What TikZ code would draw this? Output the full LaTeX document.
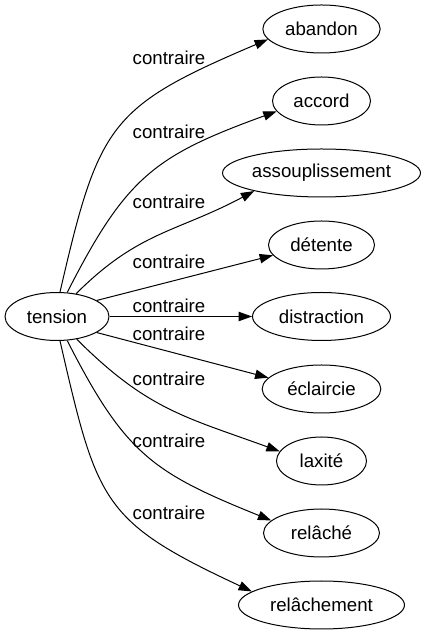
\documentclass[tikz,border=0pt]{standalone}
\usepackage{fontspec}
\setmainfont{Liberation Sans}
\usetikzlibrary{arrows.meta,shapes.geometric}

\begin{document}
\begin{tikzpicture}[
  x=0.75pt, y=0.75pt,
  >={Triangle[length=10pt,width=7pt]},
  line width=0.75pt,
  font=\fontsize{14pt}{16.8pt}\selectfont,
  term/.style={draw, ellipse, inner sep=0pt, minimum height=36pt, minimum width=#1},
  lab/.style={inner sep=0pt}
  ]
\useasboundingbox (0,0) rectangle (426,635);
\node [term=78pt] (tension) at (57,318.5) {tension};
\node [term=88pt] (abandon) at (321.5,606) {abandon};
\node [term=73.5pt] (accord) at (321.5,534) {accord};
\node [term=148.5pt] (assouplissement) at (321.5,462) {assouplissement};
\node [term=79.5pt] (detente) at (321.5,390) {détente};
\node [term=103.5pt] (distraction) at (321.5,318.5) {distraction};
\node [term=89pt] (eclaircie) at (321.5,246) {éclaircie};
\node [term=67.5pt] (laxite) at (321.5,174) {laxité};
\node [term=87pt] (relache) at (321.5,102) {relâché};
\node [term=124.5pt] (relachement) at (321.5,30) {relâchement};
\draw [->] (tension.83) to[out=77,in=203,looseness=1.35] (abandon.191);
\draw [->] (tension.67) to[out=63,in=200,looseness=1.2] (accord.193);
\draw [->] (tension.50) to[out=45,in=208,looseness=1.1] (assouplissement.195);
\draw [->] (tension.22) -- (detente.192);
\draw [->] (tension) -- (distraction);
\draw [->] (tension.-22) -- (eclaircie.168);
\draw [->] (tension.-49) to[out=-45,in=160,looseness=1.1] (laxite.167);
\draw [->] (tension.-67) to[out=-63,in=158,looseness=1.2] (relache.166);
\draw [->] (tension.-83) to[out=-77,in=155,looseness=1.35] (relachement.169);
\node [lab] (c1) at (169,577) {contraire};
\node [lab] (c2) at (169,503) {contraire};
\node [lab] (c3) at (169,433) {contraire};
\node [lab] (c4) at (169,373) {contraire};
\node [lab] (c5) at (169,329) {contraire};
\node [lab] (c6) at (169,301) {contraire};
\node [lab] (c7) at (169,256) {contraire};
\node [lab] (c8) at (169,194) {contraire};
\node [lab] (c9) at (169,122) {contraire};
\end{tikzpicture}
\end{document}
